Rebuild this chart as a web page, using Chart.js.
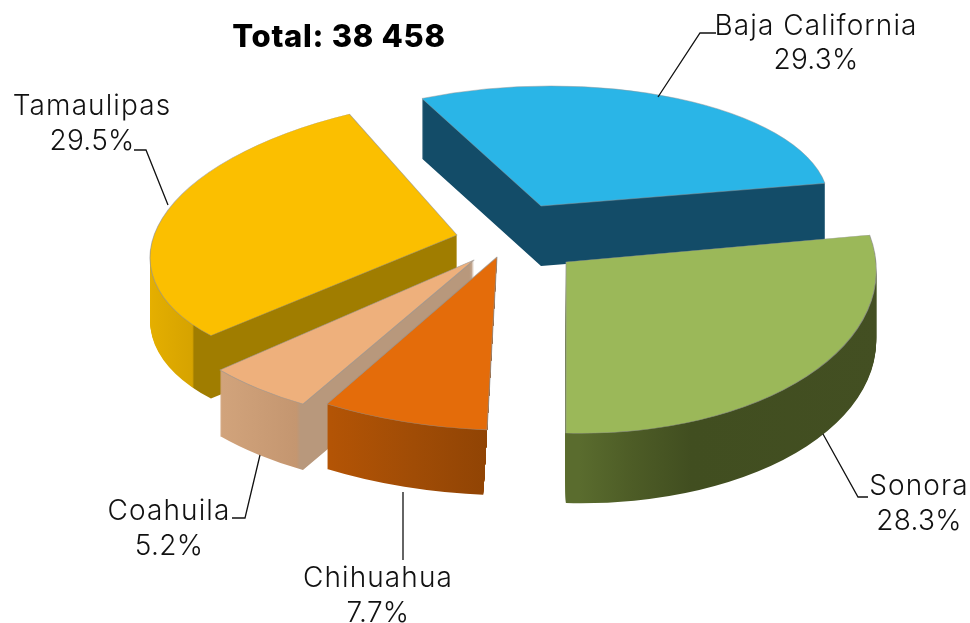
<!DOCTYPE html>
<html>
<head>
<meta charset="utf-8">
<script src="https://cdn.jsdelivr.net/npm/chart.js@4/dist/chart.umd.min.js"></script>
<style>
    html, body { margin: 0; padding: 0; background: #ffffff; }
    canvas { display: block; }
</style>
</head>
<body>
<canvas id="stateChart" width="970" height="623"></canvas>
<script>
// Chart data
const totalLabel = "Total: 38 458";
const states = ["Baja California", "Sonora", "Chihuahua", "Coahuila", "Tamaulipas"];
const shares = [29.3, 28.3, 7.7, 5.2, 29.5];

// Colours of the top faces
const topColors = ["#2ab5e7", "#9bb859", "#e46c0a", "#eeb07c", "#fbbf00"];

// Side faces: [screen x, colour] stops for each slice
const sideStops = [
    [[420, "#134c68"], [830, "#134c68"]],
    [[566, "#5a6c2e"], [620, "#4d5c26"], [680, "#414e20"], [880, "#434f22"]],
    [[327, "#b35405"], [410, "#a04c06"], [490, "#8f4304"], [497, "#8f4304"]],
    [[220, "#d2a47c"], [300, "#c49670"], [304, "#b8987c"], [480, "#b8987c"]],
    [[150, "#e6b000"], [206, "#d6a300"], [208, "#a07d00"], [460, "#a07d00"]]
];

// Exploded pie layout, in slice order
const sliceShift = [[30, -31], [55, 25], [-14, 20], [-37, 23], [-54, -2]];
const sliceDepth = [60, 70, 65, 66, 63];
const sliceTilt = [
    [287.5, -2.9, -2.7, 120],
    [310, 1.3, 12.6, 171.2],
    [346.5, 6, 4.3, 173.3],
    [334, -1, -4.2, 165.9],
    [306, -12, -24, 139]
];
const hideInnerFace = [false, false, true, false, false];
const paintOrder = [0, 4, 1, 3, 2];
const pieRadius = 300;

// Label placement
const labelCenters = [[816, 35, 69], [919, 495, 530], [378, 587, 622], [169, 520, 555], [92, 115, 150]];
const leaderLines = [
    [[716, 33], [700, 33], [658, 97]],
    [[868, 497], [858, 497], [823, 434]],
    [[403, 492], [403, 560]],
    [[232, 518], [245, 518], [260, 455]],
    [[134, 150], [146, 150], [168, 205]]
];

const labelFont = '300 28px Inter, "Open Sans", sans-serif';
const titleFont = '800 31px Inter, "Open Sans", sans-serif';

function sideGradient(ctx, arc, index) {
    const stops = sideStops[index];
    const originX = arc.x + sliceShift[index][0];
    const scaleX = sliceTilt[index][0] / pieRadius;
    const first = stops[0][0];
    const last = stops[stops.length - 1][0];
    const toLocal = sx => arc.x + (sx - originX) / scaleX;
    const gradient = ctx.createLinearGradient(toLocal(first), 0, toLocal(last), 0);
    stops.forEach(stop => gradient.addColorStop((stop[0] - first) / (last - first), stop[1]));
    return gradient;
}

function placeSlice(ctx, arc, index, drop) {
    const m = sliceTilt[index];
    ctx.translate(arc.x + sliceShift[index][0], arc.y + sliceShift[index][1] + drop);
    ctx.transform(m[0] / pieRadius, m[1] / pieRadius, m[2] / pieRadius, m[3] / pieRadius, 0, 0);
    ctx.translate(-arc.x, -arc.y);
}

// Keep the side of a slice inside its own wedge, extended past the rim
function clipToWedge(ctx, arc, index) {
    const far = pieRadius * 3;
    ctx.save();
    placeSlice(ctx, arc, index, 0);
    ctx.beginPath();
    ctx.moveTo(arc.x, arc.y);
    ctx.lineTo(arc.x + far * Math.cos(arc.startAngle), arc.y + far * Math.sin(arc.startAngle));
    ctx.lineTo(arc.x + far * Math.cos(arc.endAngle), arc.y + far * Math.sin(arc.endAngle));
    ctx.closePath();
    ctx.restore();
    ctx.clip();
}

// Draws the library's arcs with depth instead of the flat pie
const explodedPie = {
    id: "explodedPie",
    beforeDatasetDraw(chart) {
        const ctx = chart.ctx;
        const arcs = chart.getDatasetMeta(0).data;

        paintOrder.forEach(index => {
            const arc = arcs[index];

            ctx.save();
            if (hideInnerFace[index]) clipToWedge(ctx, arc, index);

            // stack the side layers from the bottom up
            for (let drop = sliceDepth[index]; drop > 0; drop--) {
                ctx.save();
                placeSlice(ctx, arc, index, drop);
                const layer = Object.create(arc);
                layer.options = Object.assign({}, arc.options, {
                    backgroundColor: sideGradient(ctx, arc, index),
                    borderWidth: 0
                });
                layer.draw(ctx);
                ctx.restore();
            }
            ctx.restore();

            ctx.save();
            placeSlice(ctx, arc, index, 0);
            arc.draw(ctx);
            ctx.restore();
        });
        return false;
    },
    afterDraw(chart) {
        const ctx = chart.ctx;
        ctx.save();

        ctx.strokeStyle = "#111111";
        ctx.lineWidth = 1.3;
        leaderLines.forEach(line => {
            ctx.beginPath();
            line.forEach((p, i) => i === 0 ? ctx.moveTo(p[0], p[1]) : ctx.lineTo(p[0], p[1]));
            ctx.stroke();
        });

        ctx.textAlign = "center";
        ctx.textBaseline = "alphabetic";
        ctx.fillStyle = "#111111";
        ctx.font = labelFont;
        states.forEach((name, i) => {
            const pos = labelCenters[i];
            ctx.letterSpacing = "1.1px";
            ctx.fillText(name, pos[0], pos[1]);
            ctx.letterSpacing = "0.3px";
            ctx.fillText(shares[i].toFixed(1) + "%", pos[0], pos[2]);
        });

        ctx.letterSpacing = "0.7px";
        ctx.font = titleFont;
        ctx.fillStyle = "#000000";
        ctx.fillText(totalLabel, 339, 47);
        ctx.restore();
    }
};

new Chart(document.getElementById("stateChart").getContext("2d"), {
    type: "pie",
    data: {
        labels: states,
        datasets: [{
            data: shares,
            backgroundColor: topColors,
            borderColor: "rgba(150,150,150,0.7)",
            borderWidth: 1,
            borderJoinStyle: "round",
            radius: pieRadius
        }]
    },
    plugins: [explodedPie],
    options: {
        responsive: false,
        animation: false,
        rotation: -25,
        events: [],
        layout: { padding: { left: 52, bottom: 149 } },
        plugins: {
            legend: { display: false },
            tooltip: { enabled: false }
        }
    }
});
</script>
</body>
</html>
